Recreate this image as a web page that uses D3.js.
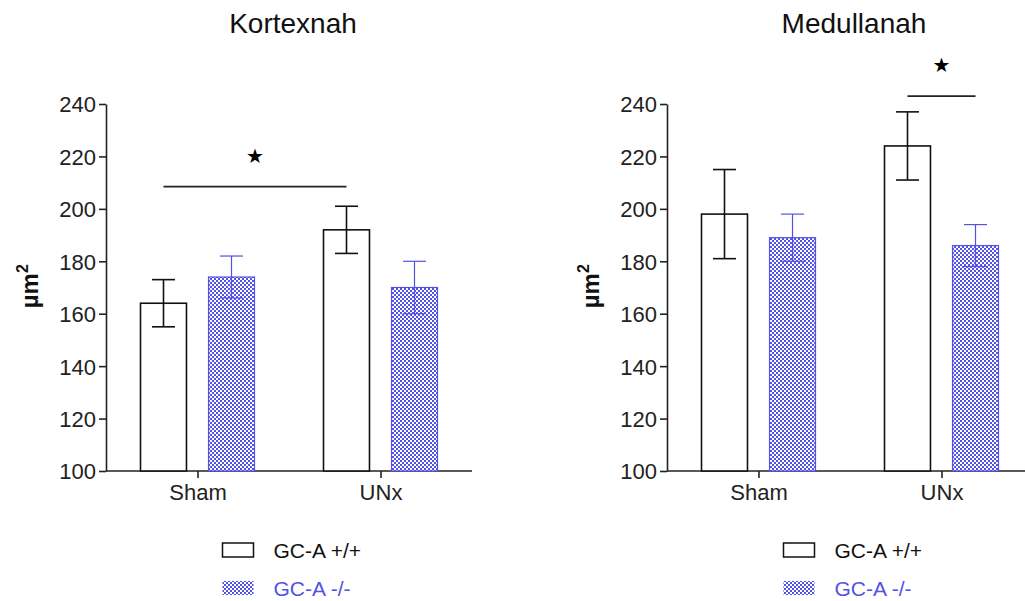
<!DOCTYPE html>
<html>
<head>
<meta charset="utf-8">
<script src="https://cdn.jsdelivr.net/npm/d3@7"></script>
<style>
  body { margin: 0; background: #fff; }
  svg { display: block; font-family: "Liberation Sans", Arial, sans-serif; }
</style>
</head>
<body>
<svg id="chart" width="1025" height="601"></svg>
<script>
const categories = ["Sham", "UNx"];
const seriesNames = ["GC-A +/+", "GC-A -/-"];
const yTicks = [100, 120, 140, 160, 180, 200, 220, 240];

// Kortexnah panel
const kortexMean = [[164, 174], [192, 170]];   // [category][series]
const kortexErr  = [[9, 8], [9, 10]];
const kortexSig  = { from: [0, 0], to: [1, 0], y: 208.5 };

// Medullanah panel
const medullaMean = [[198, 189], [224, 186]];
const medullaErr  = [[17, 9], [13, 8]];
const medullaSig  = { from: [1, 0], to: [1, 1], y: 243 };

const blue = "#5252e6";
const svg = d3.select("#chart");

// checkered fill for the knockout bars
const defs = svg.append("defs");
const pat = defs.append("pattern")
    .attr("id", "checker")
    .attr("width", 4).attr("height", 4)
    .attr("patternUnits", "userSpaceOnUse");
pat.append("rect").attr("width", 4).attr("height", 4).attr("fill", "#fff");
pat.append("rect").attr("width", 2).attr("height", 2).attr("fill", blue);
pat.append("rect").attr("x", 2).attr("y", 2).attr("width", 2).attr("height", 2).attr("fill", blue);

const panels = [
    { title: "Kortexnah", means: kortexMean, errs: kortexErr, sig: kortexSig, left: 106, right: 472, labelX: 38, titleX: 293 },
    { title: "Medullanah", means: medullaMean, errs: medullaErr, sig: medullaSig, left: 667, right: 1033, labelX: 599, titleX: 854 }
];

const y = d3.scaleLinear().domain([100, 240]).range([471, 104]);

panels.forEach(p => {
    const g = svg.append("g");

    const x0 = d3.scalePoint().domain(categories).range([p.left, p.right]).padding(0.5);
    const x1 = d3.scaleBand().domain(seriesNames).range([-57, 57]).paddingInner(0.324);

    // title
    g.append("text")
        .attr("x", p.titleX)
        .attr("y", 33)
        .attr("text-anchor", "middle")
        .attr("font-size", 28)
        .attr("fill", "#111")
        .text(p.title);

    // y label
    g.append("text")
        .attr("transform", `translate(${p.labelX},${y(170.5)}) rotate(-90)`)
        .attr("text-anchor", "middle")
        .attr("font-size", 24)
        .attr("font-weight", "bold")
        .attr("fill", "#111")
        .text("µm")
        .append("tspan")
        .attr("dy", -10)
        .attr("font-size", 16)
        .text("2");

    // axes
    const yAxis = g.append("g")
        .attr("transform", `translate(${p.left},0)`)
        .call(d3.axisLeft(y).tickValues(yTicks).tickSize(7).tickPadding(3).tickSizeOuter(0));
    const xAxis = g.append("g")
        .attr("transform", `translate(0,${y(100)})`)
        .call(d3.axisBottom(x0).tickSize(7).tickPadding(6).tickSizeOuter(0));
    [yAxis, xAxis].forEach(a => {
        a.select(".domain").attr("stroke", "#222").attr("stroke-width", 1.6);
        a.selectAll(".tick line").attr("stroke", "#222").attr("stroke-width", 1.6);
        a.selectAll(".tick text").attr("font-size", 22).attr("fill", "#222")
            .attr("font-family", "Liberation Sans, Arial, sans-serif");
    });
    yAxis.selectAll(".tick text").attr("dy", "0.36em");
    xAxis.select(".domain").attr("d", `M${p.left},0H${p.right}`);

    // bars
    categories.forEach((c, ci) => {
        seriesNames.forEach((s, si) => {
            const bx = x0(c) + x1(s);
            const bw = x1.bandwidth();
            const v = p.means[ci][si];
            const e = p.errs[ci][si];
            const col = si === 0 ? "#111" : blue;
            g.append("rect")
                .attr("x", bx).attr("y", y(v))
                .attr("width", bw).attr("height", y(100) - y(v))
                .attr("fill", si === 0 ? "#fff" : "url(#checker)")
                .attr("stroke", col)
                .attr("stroke-width", si === 0 ? 1.6 : 1.2);
            const cx = bx + bw / 2;
            const ew = si === 0 ? 1.6 : 1.2;
            g.append("line").attr("x1", cx).attr("x2", cx)
                .attr("y1", y(v - e)).attr("y2", y(v + e))
                .attr("stroke", col).attr("stroke-width", ew);
            [v - e, v + e].forEach(t => {
                g.append("line").attr("x1", cx - 11.5).attr("x2", cx + 11.5)
                    .attr("y1", y(t)).attr("y2", y(t))
                    .attr("stroke", col).attr("stroke-width", ew);
            });
        });
    });

    // significance line and star
    const sx1 = x0(categories[p.sig.from[0]]) + x1(seriesNames[p.sig.from[1]]) + x1.bandwidth() / 2;
    const sx2 = x0(categories[p.sig.to[0]]) + x1(seriesNames[p.sig.to[1]]) + x1.bandwidth() / 2;
    g.append("line")
        .attr("x1", sx1).attr("x2", sx2)
        .attr("y1", y(p.sig.y)).attr("y2", y(p.sig.y))
        .attr("stroke", "#222").attr("stroke-width", 1.6);
    g.append("text")
        .attr("x", (sx1 + sx2) / 2).attr("y", y(p.sig.y) - 24)
        .attr("text-anchor", "middle")
        .attr("font-family", "DejaVu Sans, sans-serif")
        .attr("font-size", 20)
        .text("★");

    // legend
    const lx = x0(categories[0]) + 25;
    seriesNames.forEach((s, si) => {
        const ly = 543 + si * 38;
        g.append("rect")
            .attr("x", lx).attr("y", ly)
            .attr("width", 31).attr("height", 14)
            .attr("fill", si === 0 ? "#fff" : "url(#checker)")
            .attr("stroke", si === 0 ? "#111" : "none")
            .attr("stroke-width", 1.5);
        g.append("text")
            .attr("x", lx + 51).attr("y", ly + 15)
            .attr("font-size", 21)
            .attr("fill", si === 0 ? "#111" : blue)
            .text(s);
    });
});
</script>
</body>
</html>
